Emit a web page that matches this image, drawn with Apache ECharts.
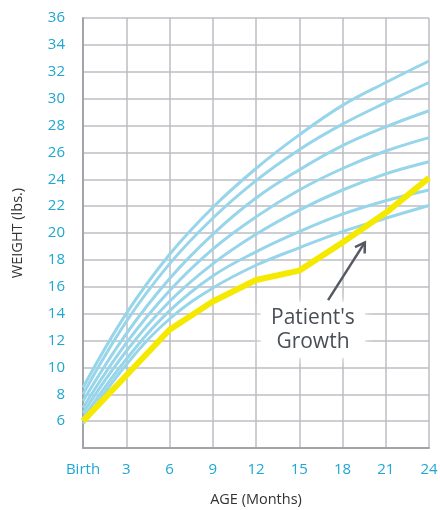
<!DOCTYPE html>
<html>
<head>
<meta charset="utf-8">
<script src="https://cdn.jsdelivr.net/npm/echarts@6/dist/echarts.min.js"></script>
<style>
  html, body { margin: 0; padding: 0; background: #fff; }
  #chart { width: 440px; height: 510px; }
</style>
</head>
<body>
<div id="chart"></div>
<script>
// age in months
const ages = [0, 3, 6, 9, 12, 15, 18, 21, 24];
// reference curves, top to bottom (lbs)
const curve1 = [8.5, 14.0, 18.4, 21.9, 24.8, 27.3, 29.5, 31.2, 32.8];
const curve2 = [8.0, 13.4, 17.7, 21.1, 23.9, 26.2, 28.1, 29.7, 31.2];
const curve3 = [7.5, 12.5, 16.6, 19.9, 22.6, 24.7, 26.5, 27.9, 29.1];
const curve4 = [7.0, 11.8, 15.7, 18.8, 21.2, 23.2, 24.8, 26.1, 27.1];
const curve5 = [6.6, 11.2, 14.9, 17.7, 19.9, 21.7, 23.2, 24.4, 25.3];
const curve6 = [6.2, 10.6, 14.2, 16.8, 18.6, 20.1, 21.4, 22.4, 23.2];
const curve7 = [5.8, 10.2, 13.6, 15.9, 17.6, 18.9, 20.1, 21.1, 22.05];
// the patient
const patient = [6.0, 9.4, 12.8, 14.9, 16.5, 17.2, 19.3, 21.5, 24.1];
// annotation (data coords)
const noteText = "Patient's\nGrowth";
const notePos = [15.95, 12.8];
const arrowFrom = [17.0, 15.0];
const arrowTo = [19.55, 19.3];

const blue = '#97d5ea';
const tickBlue = '#1ea7d2';
const arrowColor = '#555a62';

const pair = (ys) => ages.map((a, i) => [a, ys[i]]);

const curves = [curve1, curve2, curve3, curve4, curve5, curve6, curve7];

const chart = echarts.init(document.getElementById('chart'));
chart.setOption({
  animation: false,
  grid: { left: 83, right: 11, top: 18, bottom: 62, containLabel: false, outerBoundsMode: 'none' },
  xAxis: {
    type: 'value',
    min: 0, max: 24, interval: 3,
    name: 'AGE (Months)',
    nameLocation: 'middle',
    nameGap: 44,
    nameTextStyle: { color: '#333', fontSize: 14.5, fontFamily: 'Open Sans' },
    axisLine: { show: true, lineStyle: { color: '#a3a3aa', width: 2 } },
    axisTick: { show: false },
    splitLine: { show: true, lineStyle: { color: '#bdbdc3', width: 1.5 } },
    axisLabel: {
      color: tickBlue, fontSize: 15, fontFamily: 'Open Sans', margin: 14,
      formatter: v => v === 0 ? 'Birth' : String(v)
    }
  },
  yAxis: {
    type: 'value',
    min: 4, max: 36, interval: 2,
    name: 'WEIGHT (lbs.)',
    nameLocation: 'middle',
    nameGap: 58,
    nameRotate: 90,
    nameTextStyle: { color: '#333', fontSize: 14.5, fontFamily: 'Open Sans' },
    axisLine: { show: true, lineStyle: { color: '#a3a3aa', width: 2 } },
    axisTick: { show: false },
    splitLine: { show: true, lineStyle: { color: '#bdbdc3', width: 1.5 } },
    axisLabel: {
      color: tickBlue, fontSize: 15, fontFamily: 'Open Sans', margin: 18,
      formatter: v => v === 4 ? '' : String(v)
    }
  },
  series: [
    ...curves.map(c => ({
      type: 'line',
      data: pair(c),
      smooth: 0.4,
      symbol: 'none',
      lineStyle: { color: blue, width: 3 },
      z: 2
    })),
    {
      type: 'line',
      data: pair(patient),
      symbol: 'none',
      lineStyle: { color: '#f5e900', width: 6, join: 'round' },
      z: 3,
      markPoint: {
        silent: true,
        symbol: 'rect',
        symbolSize: 0,
        data: [{ coord: notePos }],
        label: {
          show: true,
          position: 'inside',
          formatter: noteText,
          color: '#4a4f57',
          fontSize: 21,
          lineHeight: 24,
          fontFamily: 'Open Sans',
          align: 'center',
          backgroundColor: '#fff',
          padding: [4, 10],
          borderRadius: 8,
          shadowColor: '#fff',
          shadowBlur: 10
        }
      }
    }
  ]
});

// arrow: shaft + open head, placed from data coords
const p0 = chart.convertToPixel({ gridIndex: 0 }, arrowFrom);
const p1 = chart.convertToPixel({ gridIndex: 0 }, arrowTo);
const ang = Math.atan2(p1[1] - p0[1], p1[0] - p0[0]);
const headLen = 11, spread = 0.55;
const h1 = [p1[0] - headLen * Math.cos(ang - spread), p1[1] - headLen * Math.sin(ang - spread)];
const h2 = [p1[0] - headLen * Math.cos(ang + spread), p1[1] - headLen * Math.sin(ang + spread)];
chart.setOption({
  graphic: [
    {
      type: 'polyline', z: 10, silent: true,
      shape: { points: [p0, p1] },
      style: { stroke: arrowColor, lineWidth: 2.5, fill: null }
    },
    {
      type: 'polyline', z: 10, silent: true,
      shape: { points: [h1, p1, h2] },
      style: { stroke: arrowColor, lineWidth: 2.5, fill: null, lineJoin: 'miter' }
    }
  ]
});
</script>
</body>
</html>
